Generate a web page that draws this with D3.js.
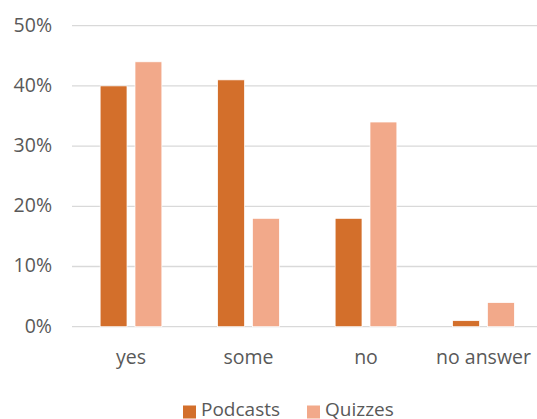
<!DOCTYPE html>
<html><head><meta charset="utf-8">
<script src="https://cdn.jsdelivr.net/npm/d3@7"></script>
<style>body{margin:0;background:#fff;} svg{display:block;}</style>
</head><body>
<svg id="c" width="537" height="419"></svg>
<script>
const categories = ["yes", "some", "no", "no answer"];
const seriesNames = ["Podcasts", "Quizzes"];
const podcasts = [40, 41, 18, 1];
const quizzes = [44, 18, 34, 4];
const yTicks = [0, 10, 20, 30, 40, 50];
const colors = ["#D36F2B", "#F2A98A"];

const svg = d3.select("#c");
const font = "'Open Sans', sans-serif";
const x = d3.scaleBand().domain(categories).range([72.25, 542.25]).paddingInner(0).paddingOuter(0);
const y = d3.scaleLinear().domain([0, 50]).range([326.7, 25.7]);
const xs = d3.scaleBand().domain(seriesNames).range([0, x.bandwidth()]).paddingInner(0.23).paddingOuter(0.8);

// gridlines
svg.append("g").selectAll("line").data(yTicks).join("line")
  .attr("x1", 72).attr("x2", 542)
  .attr("y1", d => y(d)).attr("y2", d => y(d))
  .attr("stroke", "#D9D9D9").attr("stroke-width", 1.3);

// y labels
svg.append("g").selectAll("text").data(yTicks).join("text")
  .attr("x", 52).attr("y", d => y(d)).attr("dy", "0.3em")
  .attr("text-anchor", "end").attr("fill", "#595959")
  .style("font-family", font).style("font-size", "19.5px")
  .text(d => d + "%");

const data = [podcasts, quizzes];
data.forEach((vals, si) => {
  svg.append("g").selectAll("rect").data(vals).join("rect")
    .attr("x", (d, i) => x(categories[i]) + xs(seriesNames[si]))
    .attr("width", xs.bandwidth())
    .attr("y", d => y(d))
    .attr("height", d => y(0) - y(d))
    .attr("fill", colors[si])
    .attr("stroke", "#fff").attr("stroke-width", 0.7);
});

// x labels
svg.append("g").selectAll("text").data(categories).join("text")
  .attr("x", d => x(d) + x.bandwidth() / 2).attr("y", 363.5)
  .attr("text-anchor", "middle").attr("fill", "#595959")
  .style("font-family", font).style("font-size", "19.5px")
  .text(d => d);

// legend
const legX = [183, 307];
seriesNames.forEach((n, i) => {
  svg.append("rect").attr("x", legX[i]).attr("y", 405.5).attr("width", 13).attr("height", 13).attr("fill", colors[i]);
  svg.append("text").attr("x", legX[i] + 18).attr("y", 416)
    .attr("fill", "#595959").style("font-family", font).style("font-size", "19px").text(n);
});
</script>
</body></html>
